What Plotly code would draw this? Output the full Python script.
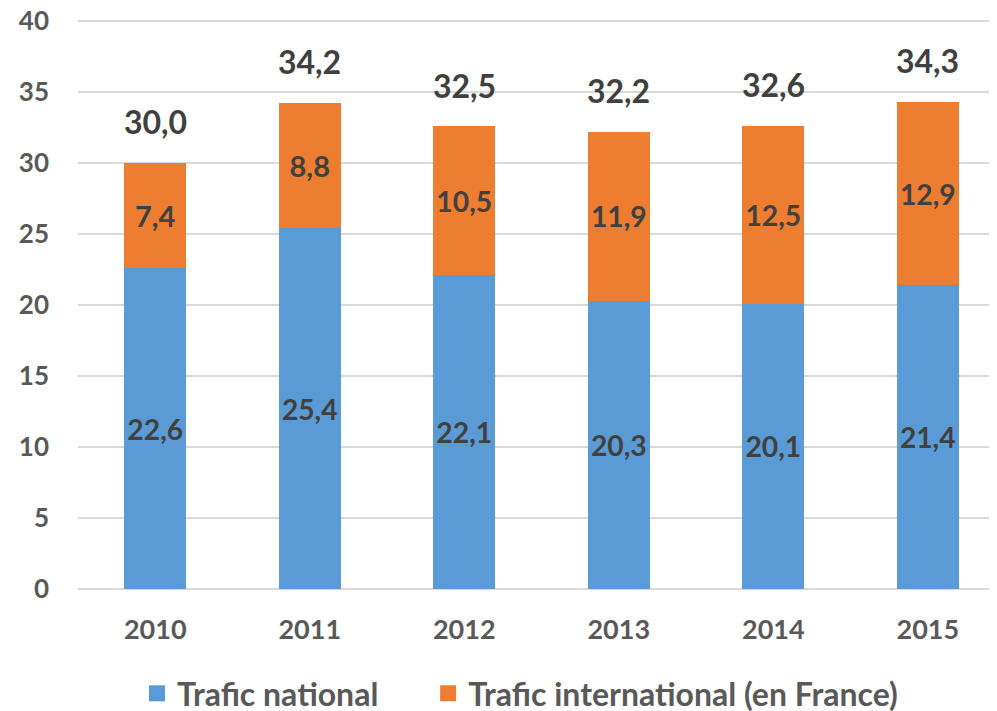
import plotly.graph_objects as go

years = ["2010", "2011", "2012", "2013", "2014", "2015"]
national = [22.6, 25.4, 22.1, 20.3, 20.1, 21.4]
international = [7.4, 8.8, 10.5, 11.9, 12.5, 12.9]
totals = [30.0, 34.2, 32.5, 32.2, 32.6, 34.3]
y_ticks = [0, 5, 10, 15, 20, 25, 30, 35, 40]
series_names = ["Trafic national", "Trafic international (en France)"]
series_colors = ["#5B9BD5", "#ED7D31"]

def fr(v):
    return f"{v:.1f}".replace(".", ",")

FONT = "Lato"
LABEL_COLOR = "#404040"
TICK_COLOR = "#595959"

fig = go.Figure()
for vals, name, col in zip([national, international], series_names, series_colors):
    fig.add_trace(go.Bar(
        x=years, y=vals, name=name, showlegend=False,
        marker=dict(color=col, line=dict(width=0)),
        text=[fr(v) for v in vals], textposition="inside",
        insidetextanchor="middle", textangle=0,
        textfont=dict(family=FONT, size=29, color=LABEL_COLOR, weight="bold"),
    ))

# legend entries with larger square symbols, each in its own legend box
for name, col, lg in zip(series_names, series_colors, ["legend", "legend2"]):
    fig.add_trace(go.Scatter(
        x=[None], y=[None], mode="markers", name=name, legend=lg,
        marker=dict(symbol="square", size=19, color=col),
    ))

# totals above bars (category index positions)
for i, t in enumerate(totals):
    fig.add_annotation(
        x=i, y=t, text=fr(t), showarrow=False, yanchor="bottom",
        xref="x", yref="y", yshift=20,
        font=dict(family=FONT, size=32, color=LABEL_COLOR, weight="bold"),
    )

legend_font = dict(family=FONT, size=32, color=TICK_COLOR, weight="bold")
fig.update_layout(
    width=989, height=711,
    barmode="stack", bargap=0.6,
    plot_bgcolor="white", paper_bgcolor="white",
    margin=dict(l=70, r=0, t=10, b=130, autoexpand=False),
    font=dict(family=FONT, color=TICK_COLOR),
    showlegend=True,
    legend=dict(orientation="h", x=0.0642, xanchor="left", y=-0.183,
                yanchor="middle", font=legend_font),
    legend2=dict(orientation="h", x=0.381, xanchor="left", y=-0.183,
                 yanchor="middle", font=legend_font),
    xaxis=dict(
        type="category", range=[-0.5, 5.448], showgrid=False, showline=False, ticks="",
        tickfont=dict(family=FONT, size=27, color=TICK_COLOR, weight="bold"),
        ticklabelstandoff=22, automargin=False,
    ),
    yaxis=dict(
        range=[0, 40.21], tickvals=y_ticks, showgrid=True, gridcolor="#D9D9D9",
        gridwidth=1.5, zeroline=True, zerolinecolor="#D9D9D9", zerolinewidth=2,
        showline=False, ticks="", ticklabeloverflow="allow",
        tickfont=dict(family=FONT, size=26, color=TICK_COLOR, weight="bold"),
        ticklabelstandoff=28, automargin=False,
    ),
)

fig.write_html("out.html")
